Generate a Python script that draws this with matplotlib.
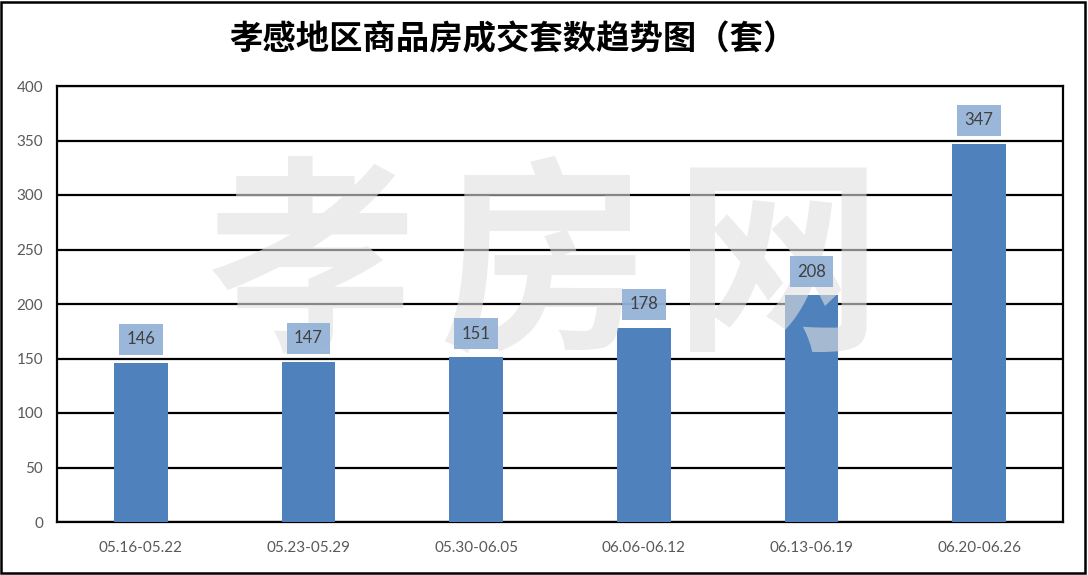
import matplotlib
matplotlib.use('Agg')
from matplotlib import pyplot as plt
from matplotlib.patches import Rectangle

periods = ['05.16-05.22', '05.23-05.29', '05.30-06.05', '06.06-06.12', '06.13-06.19', '06.20-06.26']
deals = [146, 147, 151, 178, 208, 347]
title = '孝感地区商品房成交套数趋势图（套）'
watermark = ['孝', '房', '网']

plt.rcParams['font.family'] = ['Lato', 'Noto Sans CJK SC', 'DejaVu Sans']

fig = plt.figure(figsize=(10.88, 5.75), dpi=100)
ax = fig.add_axes([57 / 1088, 1 - 522 / 575, (1063 - 57) / 1088, (522 - 86) / 575])

x = list(range(len(periods)))
bars = ax.bar(x, deals, width=0.32, color='#4F81BD', zorder=3)

ax.set_xlim(-0.5, len(periods) - 0.5)
ax.set_ylim(0, 400)
ax.set_yticks(range(0, 401, 50))
ax.set_xticks(x)
ax.set_xticklabels(periods)
ax.yaxis.grid(True, color='black', linewidth=1.6, zorder=1)
ax.set_axisbelow(True)
for side in ['left', 'right', 'bottom', 'top']:
    ax.spines[side].set_color('black')
    ax.spines[side].set_linewidth(1.6)
ax.tick_params(axis='y', length=0, pad=10, labelsize=11, labelcolor='#595959')
ax.tick_params(axis='x', length=0, pad=14, labelsize=11, labelcolor='#595959')

# watermark sits over bars and grid, under the data labels
for cx, ch in zip([312, 543, 778], watermark):
    ax.text(cx / 1088, 1 - 272 / 575, ch, transform=fig.transFigure, ha='center', va='center',
            fontsize=150, fontweight='bold', family=['Noto Sans CJK SC'],
            color='#e0e0e0', alpha=0.6, zorder=5, clip_on=False)

# data labels with light blue boxes
for xi, v in zip(x, deals):
    ax.annotate(str(v), (xi, v), xytext=(0, 17), textcoords='offset points',
                ha='center', va='center', fontsize=12, color='#404040', zorder=6,
                bbox=dict(boxstyle='square,pad=0.45', fc='#95B3D7', ec='none', alpha=0.95))

fig.text(513 / 1088, 1 - 40 / 575, title, ha='center', va='center', fontsize=24,
         fontweight='bold', family=['Noto Sans CJK SC'], color='black')

fig.patches.append(Rectangle((1 / 1088, 2 / 575), 1084 / 1088, 571 / 575,
                             transform=fig.transFigure, fill=False, ec='black', lw=1.8))

fig.savefig('out.png', dpi=100)
